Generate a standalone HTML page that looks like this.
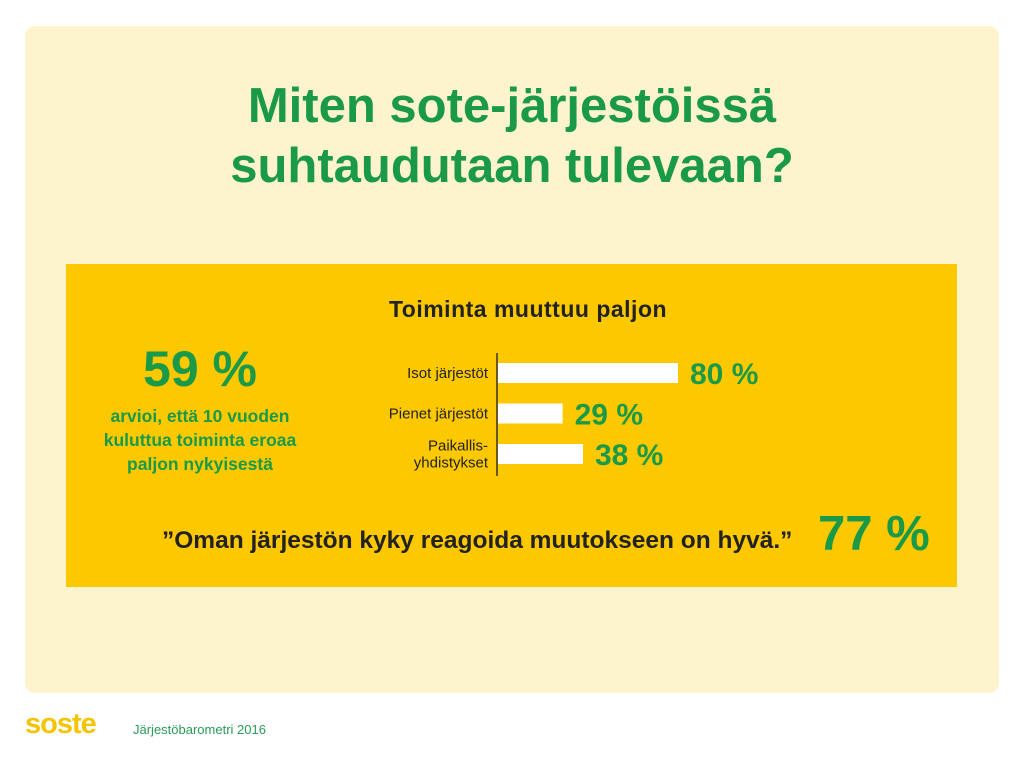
<!DOCTYPE html>
<html><head><meta charset="utf-8"><style>
body{margin:0;width:1024px;height:768px;background:#fff;position:relative;font-family:"Liberation Sans",sans-serif;overflow:hidden}
.a{position:absolute}
</style></head><body>
<div class="a" style="left:25px;top:26px;width:974px;height:667px;background:#fdf3cc;border-radius:10px"></div>
<div class="a" style="left:0;top:76px;width:1024px;text-align:center;color:#1a9a48;font-weight:bold;font-size:49px;line-height:60px;letter-spacing:0px">Miten sote-järjestöissä<br>suhtaudutaan tulevaan?</div>
<div class="a" style="left:66px;top:264px;width:891px;height:323px;background:#fcc800"></div>
<div class="a" style="left:100px;top:340px;width:200px;text-align:center;color:#1a9a48;font-weight:bold;font-size:50px">59 %</div>
<div class="a" style="left:70px;top:404px;width:260px;text-align:center;color:#1a9a48;font-weight:bold;font-size:17.5px;line-height:24px">arvioi, että 10 vuoden<br>kuluttua toiminta eroaa<br>paljon nykyisestä</div>
<div class="a" style="left:300px;top:296px;width:456px;text-align:center;color:#222;font-weight:bold;font-size:23px;letter-spacing:0.5px">Toiminta muuttuu paljon</div>
<svg class="a" style="left:0;top:0" width="1024" height="768" id="chart"></svg>
<div class="a" style="left:162px;top:527px;color:#222;font-weight:bold;font-size:24.5px">”Oman järjestön kyky reagoida muutokseen on hyvä.”</div>
<div class="a" style="left:818px;top:506px;color:#1a9a48;font-weight:bold;font-size:49px">77 %</div>
<div class="a" style="left:25px;top:708px;color:#f5c400;font-weight:bold;font-size:29px;letter-spacing:-1px">soste</div>
<div class="a" style="left:133px;top:722px;color:#2a9a5a;font-size:13px">Järjestöbarometri 2016</div>
<script>
const categories=[["Isot järjestöt"],["Pienet järjestöt"],["Paikallis-","yhdistykset"]];
const values=[80,29,38];
const valueLabels=["80 %","29 %","38 %"];
const svg=document.getElementById('chart');const ns='http://www.w3.org/2000/svg';
const x0=497,scale=181/80,y0=363,step=40.5,bh=20;
const x=v=>x0+v*scale,y=i=>y0+i*step;
function mk(t,a){const e=document.createElementNS(ns,t);for(const k in a)e.setAttribute(k,a[k]);svg.appendChild(e);return e;}
const ax=mk('line',{x1:x0,x2:x0,y1:353,y2:476,stroke:'#333','stroke-width':1.5});


values.forEach((v,i)=>{
const r=mk('rect',{x:x0+1,y:y(i),width:x(v)-x0-1,height:bh,fill:'#fff'});


const t=mk('text',{x:x(v)+12,y:y(i)+bh/2+11,fill:'#1a9a48','font-weight':'bold','font-size':30,'font-family':'Liberation Sans, sans-serif'});
t.textContent=valueLabels[i];


const lines=categories[i];
lines.forEach((s,j)=>{
const l=mk('text',{x:488,y:y(i)+bh/2+5+(j-(lines.length-1)/2)*17,'text-anchor':'end',fill:'#222','font-size':15,'font-family':'Liberation Sans, sans-serif'});
l.textContent=s;


});
});
</script>
</body></html>
